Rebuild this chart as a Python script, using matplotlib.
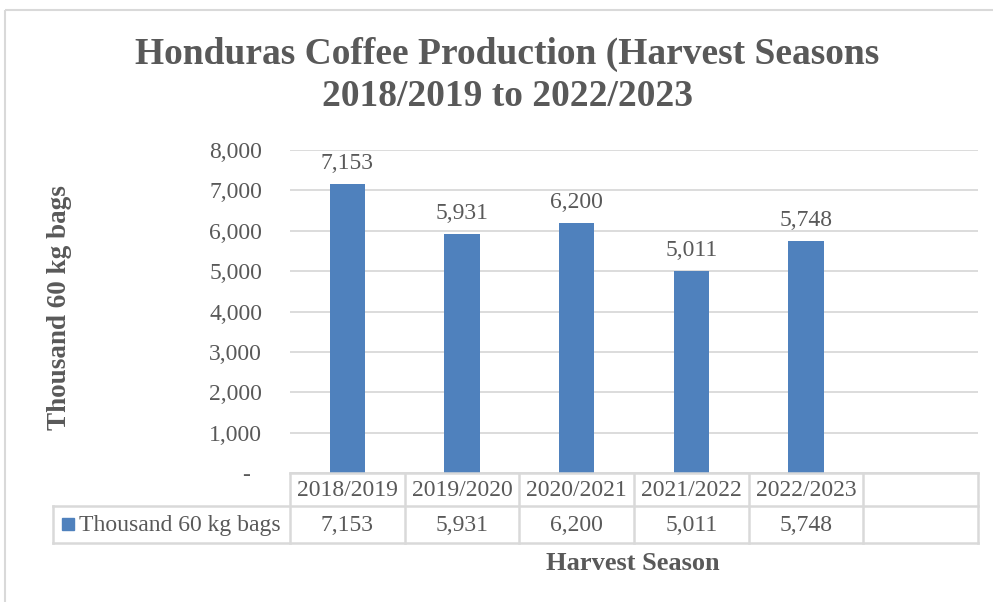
import matplotlib.pyplot as plt
from matplotlib.patches import Rectangle

seasons = ["2018/2019", "2019/2020", "2020/2021", "2021/2022", "2022/2023"]
bags = [7153, 5931, 6200, 5011, 5748]
series_name = "Thousand 60 kg bags"
y_ticks = [0, 1000, 2000, 3000, 4000, 5000, 6000, 7000, 8000]
n_slots = 6  # Excel table leaves one empty column

BAR = "#4F81BD"
TEXT = "#595959"
GRID = "#D9D9D9"
W, H = 993, 602

plt.rcParams["font.family"] = ["Liberation Serif", "DejaVu Serif"]

fig = plt.figure(figsize=(W / 100, H / 100), dpi=100)
fig.patch.set_facecolor("white")

# plot area in pixels
left, right, top, bottom = 290, 978, 150, 473
ax = fig.add_axes([left / W, 1 - bottom / H, (right - left) / W, (bottom - top) / H])
ax.set_facecolor("none")

x = list(range(len(seasons)))
bars = ax.bar(x, bags, width=0.31, color=BAR, zorder=3)
for rect, v in zip(bars, bags):
    ax.annotate(f"{v:,}", (rect.get_x() + rect.get_width() / 2, v), xytext=(0, 7),
                textcoords="offset points", ha="center", va="bottom", fontsize=17, color=TEXT)

ax.set_xlim(-0.5, n_slots - 0.5)
ax.set_ylim(0, 8000)
ax.set_yticks(y_ticks)
# Excel accounting format shows zero as a dash, padded from the right
ax.set_yticklabels(["-  " if t == 0 else f"{t:,}" for t in y_ticks])
ax.tick_params(axis="y", length=0, labelsize=17, labelcolor=TEXT, pad=20)
ax.set_xticks([])
ax.grid(axis="y", color=GRID, linewidth=1.3, zorder=0)
for s in ax.spines.values():
    s.set_visible(False)

# overlay in pixel coordinates for frame, table and titles
ov = fig.add_axes([0, 0, 1, 1], zorder=-1)
ov.set_xlim(0, W)
ov.set_ylim(H, 0)
ov.axis("off")
ov.add_patch(Rectangle((5, 10), W, H, fill=False, edgecolor=GRID, linewidth=1.5))

ov2 = fig.add_axes([0, 0, 1, 1])
ov2.set_xlim(0, W)
ov2.set_ylim(H, 0)
ov2.axis("off")
ov2.patch.set_visible(False)

slot = (right - left) / n_slots
r0, r1, r2 = 473, 506, 543
legend_left = 53
line_kw = dict(color=GRID, linewidth=1.8)
ov2.plot([left, right], [r0, r0], **line_kw)
ov2.plot([legend_left, right], [r1, r1], **line_kw)
ov2.plot([legend_left, right], [r2, r2], **line_kw)
ov2.plot([legend_left, legend_left], [r1, r2], **line_kw)
for i in range(n_slots + 1):
    xb = left + i * slot
    ov2.plot([xb, xb], [r0, r2], **line_kw)

for i, (s, v) in enumerate(zip(seasons, bags)):
    cx = left + (i + 0.5) * slot
    ov2.text(cx, (r0 + r1) / 2 + 1, s, ha="center", va="center", fontsize=17, color=TEXT)
    ov2.text(cx, (r1 + r2) / 2 + 1, f"{v:,}", ha="center", va="center", fontsize=17, color=TEXT)

ov2.add_patch(Rectangle((62, 518), 12, 12, color=BAR))
ov2.text(79, (r1 + r2) / 2 + 1, series_name, ha="left", va="center", fontsize=17, color=TEXT)

ov2.text(633, 563, "Harvest Season", ha="center", va="center", fontsize=19,
         fontweight="bold", color=TEXT)
ov2.text(59, 308, "Thousand 60 kg bags", ha="center", va="center", rotation=90,
         fontsize=19.5, fontweight="bold", color=TEXT)
ov2.text(507, 54, "Honduras Coffee Production (Harvest Seasons",
         ha="center", va="center", fontsize=27, fontweight="bold", color=TEXT)
ov2.text(507, 96, "2018/2019 to 2022/2023",
         ha="center", va="center", fontsize=27, fontweight="bold", color=TEXT)

fig.savefig("out.png", dpi=100, facecolor="white")
